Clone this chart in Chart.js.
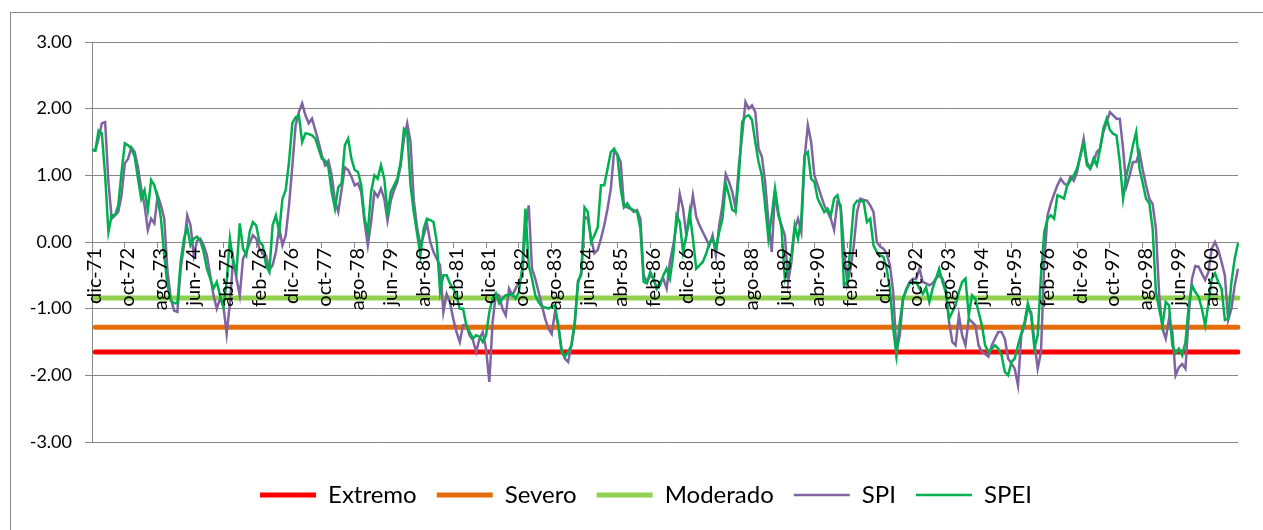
<!DOCTYPE html>
<html>
<head>
<meta charset="utf-8">
<script src="https://cdn.jsdelivr.net/npm/chart.js@4.4.1/dist/chart.umd.min.js"></script>
<style>
  html, body { margin: 0; padding: 0; background: #fff; }
  #caja { position: relative; width: 1263px; height: 530px; }
</style>
</head>
<body>
<div id="caja"><canvas id="grafico" width="1263" height="530"></canvas></div>
<script>
// meses: dic-71 ... ene-01
const meses = ['ene', 'feb', 'mar', 'abr', 'may', 'jun', 'jul', 'ago', 'sep', 'oct', 'nov', 'dic'];
const mesInicio = 11;
const anioInicio = 71;

const spi = [
  1.38, 1.37, 1.55, 1.78, 1.80, 0.90, 0.35, 0.40, 0.45, 0.70,
  1.18, 1.25, 1.42, 1.35, 1.12, 0.80, 0.55, 0.18, 0.35, 0.28,
  0.70, 0.55, 0.35, -0.45, -0.85, -1.03, -1.05, -0.40, -0.05, 0.40,
  0.25, -0.20, 0.02, 0.05, -0.05, -0.20, -0.50, -0.80, -1.00, -0.85,
  -0.95, -1.38, -0.92, -0.25, -0.55, -0.80, -0.25, -0.15, -0.02, 0.10,
  0.05, -0.10, -0.18, -0.20, -0.42, -0.35, -0.15, 0.22, -0.05, 0.10,
  0.55, 1.13, 1.75, 1.95, 2.08, 1.90, 1.78, 1.85, 1.68, 1.50,
  1.30, 1.15, 1.22, 1.00, 0.62, 0.45, 0.78, 1.12, 1.08, 0.98,
  0.85, 0.88, 0.75, 0.30, -0.05, 0.30, 0.75, 0.68, 0.80, 0.65,
  0.32, 0.62, 0.78, 0.90, 1.15, 1.55, 1.78, 1.50, 0.62, 0.22,
  -0.05, 0.10, 0.28, 0.00, -0.15, -0.25, -0.35, -1.05, -0.78, -0.90,
  -1.15, -1.35, -1.50, -1.25, -1.25, -1.40, -1.47, -1.65, -1.45, -1.35,
  -1.60, -2.10, -1.20, -0.78, -0.80, -1.00, -1.10, -0.70, -0.80, -0.70,
  -0.60, -0.50, 0.20, 0.55, -0.40, -0.55, -0.75, -0.95, -1.15, -1.30,
  -1.38, -1.05, -1.25, -1.60, -1.75, -1.80, -1.55, -1.25, -0.58, -0.50,
  0.38, 0.35, 0.05, -0.17, -0.12, 0.05, 0.25, 0.50, 0.80, 1.35,
  1.32, 1.20, 0.55, 0.52, 0.50, 0.45, 0.48, 0.35, -0.50, -0.60,
  -0.50, -0.55, -0.70, -0.60, -0.55, -0.70, -0.30, -0.05, 0.25, 0.72,
  0.50, 0.10, 0.35, 0.70, 0.38, 0.25, 0.15, 0.05, -0.05, 0.10,
  -0.20, 0.25, 0.55, 1.02, 0.90, 0.75, 0.50, 1.15, 1.60, 2.10,
  2.00, 2.05, 1.95, 1.40, 1.28, 0.90, 0.30, -0.15, 0.75, 0.40,
  0.25, 0.10, -0.60, -0.30, 0.20, 0.35, 0.15, 1.25, 1.75, 1.50,
  1.00, 0.85, 0.70, 0.55, 0.45, 0.35, 0.18, 0.60, 0.55, -0.10,
  -0.62, -0.40, -0.05, 0.45, 0.65, 0.63, 0.62, 0.55, 0.45, 0.00,
  -0.07, -0.10, -0.17, -0.35, -0.75, -1.65, -1.40, -0.85, -0.70, -0.60,
  -0.55, -0.55, -0.40, -0.60, -0.62, -0.65, -0.62, -0.55, -0.50, -0.55,
  -0.70, -1.20, -1.50, -1.55, -1.10, -1.40, -1.55, -1.15, -1.20, -1.25,
  -1.55, -1.65, -1.68, -1.72, -1.55, -1.45, -1.35, -1.35, -1.45, -1.75,
  -1.82, -1.90, -2.15, -1.40, -1.25, -1.00, -1.05, -1.50, -1.90, -1.65,
  -0.30, 0.40, 0.58, 0.72, 0.85, 0.95, 0.88, 0.85, 0.98, 0.92,
  1.05, 1.30, 1.55, 1.20, 1.10, 1.20, 1.35, 1.40, 1.65, 1.80,
  1.95, 1.90, 1.85, 1.85, 1.40, 0.83, 1.00, 1.20, 1.20, 1.35,
  1.08, 0.85, 0.65, 0.57, 0.20, -0.80, -1.30, -1.45, -1.15, -1.35,
  -2.00, -1.88, -1.83, -1.90, -1.10, -0.55, -0.36, -0.37, -0.47, -0.57,
  -0.45, -0.10, 0.00, -0.12, -0.30, -0.50, -1.17, -1.00, -0.65, -0.40
];

const spei = [
  1.39, 1.37, 1.67, 1.63, 1.00, 0.15, 0.40, 0.40, 0.55, 1.05,
  1.48, 1.45, 1.40, 1.28, 0.95, 0.65, 0.78, 0.48, 0.93, 0.85,
  0.65, 0.35, -0.20, -0.65, -0.88, -0.92, -0.92, -0.30, 0.05, 0.22,
  -0.05, 0.05, 0.08, 0.02, -0.15, -0.40, -0.55, -0.70, -0.60, -0.80,
  -0.98, -0.60, 0.05, -0.30, -0.45, 0.28, -0.10, -0.20, 0.15, 0.30,
  0.25, 0.00, -0.05, -0.35, -0.45, 0.25, 0.40, 0.15, 0.65, 0.78,
  1.20, 1.78, 1.87, 1.90, 1.50, 1.63, 1.62, 1.60, 1.55, 1.40,
  1.25, 1.22, 1.12, 0.75, 0.50, 0.82, 0.88, 1.45, 1.55, 1.25,
  1.08, 1.05, 0.85, 0.35, 0.15, 0.75, 1.00, 0.95, 1.15, 0.95,
  0.43, 0.75, 0.85, 0.95, 1.20, 1.70, 1.65, 0.85, 0.45, 0.13,
  -0.20, 0.20, 0.35, 0.33, 0.30, 0.00, -0.75, -0.50, -0.50, -0.62,
  -0.70, -0.80, -1.00, -1.00, -1.25, -1.35, -1.45, -1.40, -1.42, -1.50,
  -1.40, -1.05, -0.85, -0.77, -0.92, -0.85, -0.80, -0.80, -0.78, -0.85,
  -0.75, -0.40, 0.50, -0.35, -0.55, -0.80, -0.90, -0.97, -0.98, -1.00,
  -0.97, -0.95, -1.25, -1.65, -1.72, -1.65, -1.55, -1.20, -0.62, -0.45,
  0.52, 0.45, 0.00, 0.10, 0.22, 0.85, 0.85, 1.10, 1.35, 1.40,
  1.30, 0.80, 0.52, 0.58, 0.50, 0.48, 0.45, 0.20, -0.60, -0.62,
  -0.45, -0.55, -0.70, -0.65, -0.50, -0.40, -0.55, -0.20, 0.40, 0.30,
  -0.15, 0.10, 0.45, 0.05, -0.40, -0.35, -0.30, -0.18, -0.02, 0.05,
  -0.10, 0.15, 0.35, 0.88, 0.70, 0.48, 0.45, 1.00, 1.80, 1.88,
  1.90, 1.83, 1.50, 1.20, 1.00, 0.55, 0.05, 0.40, 0.80, 0.45,
  0.20, -0.55, -0.40, -0.20, 0.25, 0.05, 0.35, 1.30, 1.35, 0.95,
  0.90, 0.65, 0.55, 0.45, 0.50, 0.40, 0.65, 0.70, 0.50, -0.65,
  -0.60, -0.05, 0.55, 0.62, 0.62, 0.60, 0.30, 0.35, -0.05, -0.15,
  -0.20, -0.22, -0.40, -0.70, -1.30, -1.70, -1.20, -0.85, -0.72, -0.62,
  -0.60, -0.60, -0.70, -0.78, -0.68, -0.90, -0.70, -0.55, -0.40, -0.60,
  -0.75, -1.15, -1.05, -0.95, -0.75, -0.60, -0.55, -1.10, -0.80, -0.85,
  -1.05, -1.25, -1.55, -1.65, -1.60, -1.55, -1.60, -1.70, -1.95, -2.00,
  -1.80, -1.75, -1.55, -1.37, -1.20, -0.92, -1.10, -1.60, -1.40, -0.50,
  0.15, 0.35, 0.40, 0.35, 0.70, 0.68, 0.65, 0.85, 0.93, 1.00,
  1.10, 1.30, 1.48, 1.15, 1.10, 1.25, 1.15, 1.40, 1.70, 1.85,
  1.68, 1.62, 1.60, 1.20, 0.65, 1.00, 1.20, 1.45, 1.65, 1.10,
  0.88, 0.65, 0.58, 0.20, -0.75, -1.00, -1.25, -0.90, -0.95, -1.55,
  -1.67, -1.60, -1.70, -1.50, -0.95, -0.65, -0.75, -0.82, -1.00, -1.25,
  -0.92, -0.55, -0.47, -0.60, -0.70, -1.17, -1.15, -0.60, -0.25, -0.02
];

// umbrales de sequía
const umbralNombres = ['Extremo', 'Severo', 'Moderado'];
const umbralValores = [-1.65, -1.28, -0.84];
const umbralColores = ['#ff0000', '#e46c0a', '#92d050'];

const yMin = -3, yMax = 3, yPaso = 1;

const etiquetas = spi.map((_, i) => {
  const k = mesInicio + i;
  const anio = (anioInicio + Math.floor(k / 12)) % 100;
  return meses[k % 12] + '-' + String(anio).padStart(2, '0');
});

const gris = '#868686';
const fuente = 'Lato, "Open Sans", sans-serif';

const umbrales = umbralNombres.map((nombre, j) => ({
  label: nombre,
  data: [
    { x: etiquetas[1], y: umbralValores[j] },
    { x: etiquetas[etiquetas.length - 1], y: umbralValores[j] }
  ],
  borderColor: umbralColores[j],
  backgroundColor: umbralColores[j],
  borderWidth: 5,
  borderCapStyle: 'round',
  pointRadius: 0,
  order: 5 - j
}));

// marco del gráfico y leyenda algo corrida a la derecha
const marco = {
  id: 'marco',
  afterLayout(chart) {
    chart.legend.left += 24;
    chart.legend.right += 24;
  },
  beforeDraw(chart) {
    const c = chart.ctx;
    c.save();
    c.strokeStyle = gris;
    c.lineWidth = 1;
    c.strokeRect(10.5, 12.5, 1300, 600);
    c.restore();
  }
};

const ctx = document.getElementById('grafico');

new Chart(ctx, {
  type: 'line',
  data: {
    labels: etiquetas,
    datasets: [
      ...umbrales,
      {
        label: 'SPI',
        data: spi,
        borderColor: '#8064a2',
        backgroundColor: '#8064a2',
        borderWidth: 2.5,
        pointRadius: 0,
        tension: 0,
        order: 2
      },
      {
        label: 'SPEI',
        data: spei,
        borderColor: '#00b050',
        backgroundColor: '#00b050',
        borderWidth: 2.5,
        pointRadius: 0,
        tension: 0,
        order: 1
      }
    ]
  },
  options: {
    responsive: false,
    animation: false,
    devicePixelRatio: 1,
    layout: {
      padding: { left: 0, right: 19, top: 42, bottom: 13 }
    },
    plugins: {
      tooltip: { enabled: false },
      legend: {
        position: 'bottom',
        title: {
          display: true,
          text: ' ',
          font: { size: 10 },
          padding: { top: 9, bottom: 0 }
        },
        labels: {
          usePointStyle: true,
          pointStyle: 'line',
          pointStyleWidth: 56,
          padding: 20,
          color: '#000',
          font: { family: fuente, size: 24 },
          sort: (a, b) => a.datasetIndex - b.datasetIndex
        }
      }
    },
    scales: {
      x: {
        type: 'category',
        position: { y: 0 },
        grid: {
          drawOnChartArea: false,
          tickLength: 5,
          tickColor: (c) => (c.index % 10 === 0 ? gris : 'rgba(0,0,0,0)')
        },
        border: { color: gris, width: 1 },
        ticks: {
          z: 1,
          autoSkip: false,
          minRotation: 90,
          maxRotation: 90,
          padding: 1,
          labelOffset: 3,
          color: '#000',
          font: { family: fuente, size: 20 },
          callback: function (v, i) {
            return i % 10 === 0 ? this.getLabelForValue(v) : '';
          }
        }
      },
      y: {
        min: yMin,
        max: yMax,
        afterFit: (s) => { s.width = 92; },
        grid: { color: gris, tickLength: 7 },
        border: { color: gris },
        ticks: {
          stepSize: yPaso,
          padding: 13,
          color: '#000',
          font: { family: fuente, size: 18 },
          callback: (v) => v.toFixed(2)
        }
      }
    }
  },
  plugins: [marco]
});
</script>
</body>
</html>
